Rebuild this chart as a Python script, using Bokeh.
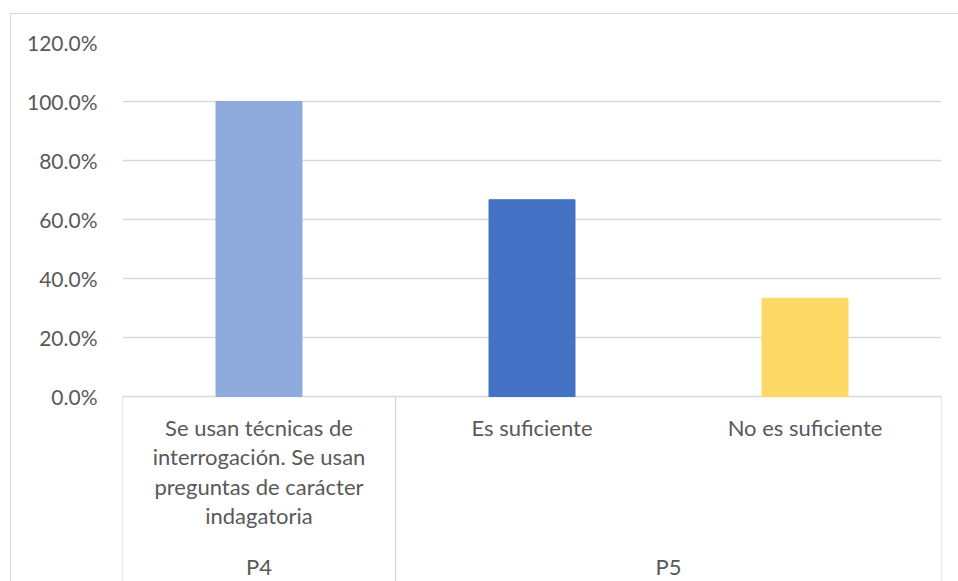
from bokeh.plotting import figure
from bokeh.models import FactorRange, Range1d, FixedTicker, NumeralTickFormatter, ColumnDataSource
from bokeh.core.properties import value
from bokeh.embed import file_html
from bokeh.resources import INLINE

# ---- data ----
groups = ["P4", "P5", "P5"]
categories = [
    "Se usan técnicas de interrogación. Se usan preguntas de carácter indagatoria",
    "Es suficiente",
    "No es suficiente",
]
category_labels = [
    "Se usan técnicas de\ninterrogación. Se usan\npreguntas de carácter\nindagatoria",
    "Es suficiente",
    "No es suficiente",
]
values_ = [1.0, 0.667, 0.333]
colors = ["#8FAADC", "#4472C4", "#FFD966"]
y_ticks = [0.0, 0.2, 0.4, 0.6, 0.8, 1.0, 1.2]

TEXT = "#595959"
LINE = "#d9d9d9"
FONT = "Lato"

p = figure(
    width=958, height=581,
    x_range=FactorRange(factors=categories, factor_padding=0, range_padding=0),
    y_range=Range1d(-0.627, 1.2),
    output_backend="svg", toolbar_location=None, x_axis_location=None,
    min_border_left=122, min_border_right=17, min_border_top=42, min_border_bottom=0,
)
p.outline_line_color = None
p.background_fill_color = "white"
p.border_fill_alpha = 0
p.styles = {
    "background": (
        "linear-gradient(#d9d9d9, #d9d9d9) 10px 13px / 1px 100% no-repeat, "
        "linear-gradient(#d9d9d9, #d9d9d9) 10px 13px / 100% 1px no-repeat, white"
    )
}
p.xgrid.visible = False

src = ColumnDataSource(dict(cat=categories, val=values_, color=colors))
p.vbar(x="cat", top="val", width=0.315, color="color", source=src)

# y axis
p.yaxis.ticker = FixedTicker(ticks=y_ticks)
p.yaxis.formatter = NumeralTickFormatter(format="0.0%")
p.yaxis.axis_line_color = None
p.yaxis.major_tick_line_color = None
p.yaxis.minor_tick_line_color = None
p.yaxis.major_label_standoff = 19
p.yaxis.major_label_text_font = FONT
p.yaxis.major_label_text_font_size = "21px"
p.yaxis.major_label_text_color = TEXT
p.ygrid.ticker = FixedTicker(ticks=y_ticks)
p.ygrid.grid_line_color = LINE
p.ygrid.grid_line_width = 1.3

# category-axis box lines (group separators)
n = len(categories)
sep_x = [(categories[0], -0.5)]
for i in range(1, n):
    if groups[i] != groups[i - 1]:
        sep_x.append((categories[i], -0.5))
sep_x.append((categories[-1], 0.5))
y_bottom = p.y_range.start
p.segment(x0=sep_x, x1=sep_x, y0=[0.0] * len(sep_x), y1=[y_bottom] * len(sep_x),
          line_color=LINE, line_width=1.3)

# category labels (first level)
p.text(x=categories, y=[-0.06] * n, text=category_labels,
       text_font=value(FONT), text_font_size="22px", text_color=TEXT,
       text_align="center", text_baseline="top", text_line_height=1.08)

# group labels (second level)
gx, gt = [], []
for g in dict.fromkeys(groups):
    idx = [i for i, gg in enumerate(groups) if gg == g]
    first, last = idx[0], idx[-1]
    gx.append((categories[last], -(last - first) / 2))
    gt.append(g)
p.text(x=gx, y=[-0.577] * len(gx), text=gt,
       text_font=value(FONT), text_font_size="22px", text_color=TEXT,
       text_align="center", text_baseline="alphabetic")

open("out.html", "w").write(file_html(p, INLINE))
